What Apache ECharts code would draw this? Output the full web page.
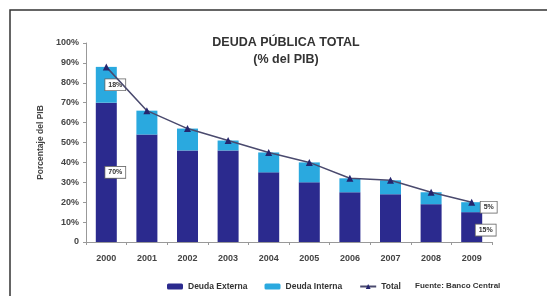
<!DOCTYPE html>
<html>
<head>
<meta charset="utf-8">
<script src="https://cdn.jsdelivr.net/npm/echarts@6/dist/echarts.min.js"></script>
<style>
  html, body { margin: 0; padding: 0; background: #fff; }
  #chart { width: 547px; height: 296px; }
</style>
</head>
<body>
<div id="chart"></div>
<script>
// años y valores (% del PIB)
const years = ['2000', '2001', '2002', '2003', '2004', '2005', '2006', '2007', '2008', '2009'];
const deudaExterna = [70, 54, 46, 46, 35, 30, 25, 24, 19, 15];
const deudaInterna = [18, 12, 11, 5, 10, 10, 7, 7, 6, 5];
const total = [88, 66, 57, 51, 45, 40, 32, 31, 25, 20];
const yTicks = [0, 10, 20, 30, 40, 50, 60, 70, 80, 90, 100];

const FONT = 'Liberation Sans';
const DARK = '#2b2a8e';
const LIGHT = '#2aa9df';

// etiquetas solo en la primera y la última barra
const _labeled = (arr, offset) => arr.map((v, i) => {
    if (i === 0 || i === arr.length - 1) {
        return {
            value: v,
            label: {
                show: true,
                position: 'inside',
                offset: i === 0 ? [9, 0] : offset,
                formatter: '{c}%',
                color: '#333',
                fontSize: 7,
                fontWeight: 'bold',
                fontFamily: FONT,
                backgroundColor: '#fff',
                borderColor: '#666',
                borderWidth: 0.8,
                padding: [2, 3]
            }
        };
    }
    return v;
});

let chart = echarts.init(document.getElementById('chart'));

chart.setOption({
    animation: false,
    title: {
        text: 'DEUDA PÚBLICA TOTAL\n(% del PIB)',
        left: 281,
        top: 29,
        textAlign: 'center',
        textStyle: {
            color: '#333',
            fontSize: 12.5,
            fontWeight: 'bold',
            fontFamily: FONT,
            lineHeight: 17
        }
    },
    legend: {
        left: 162,
        top: 277,
        itemWidth: 16,
        itemHeight: 6,
        itemGap: 17,
        textStyle: { fontSize: 8.5, fontWeight: 'bold', color: '#333', fontFamily: FONT },
        data: ['Deuda Externa', 'Deuda Interna', 'Total']
    },
    grid: {
        left: 86,
        right: 55,
        top: 43,
        bottom: 54
    },
    xAxis: {
        type: 'category',
        data: years,
        axisLine: { lineStyle: { color: '#999', width: 1 } },
        axisTick: { show: true, lineStyle: { color: '#999' }, length: 3 },
        axisLabel: {
            color: '#444',
            fontSize: 9,
            fontWeight: 'bold',
            fontFamily: FONT,
            margin: 12
        }
    },
    yAxis: {
        type: 'value',
        min: yTicks[0],
        max: yTicks[yTicks.length - 1],
        interval: 10,
        name: 'Porcentaje del PIB',
        nameLocation: 'middle',
        nameGap: 41,
        nameTextStyle: { fontSize: 8.5, fontWeight: 'bold', color: '#444', fontFamily: FONT },
        axisLine: { show: true, lineStyle: { color: '#999' } },
        axisTick: { show: true, lineStyle: { color: '#999' }, length: 3 },
        splitLine: { show: false },
        axisLabel: {
            color: '#444',
            fontSize: 9,
            fontWeight: 'bold',
            fontFamily: FONT,
            margin: 7,
            formatter: (v) => v === 0 ? '0' : v + '%'
        }
    },
    graphic: [
        {
            type: 'polyline',
            shape: { points: [[10, 296], [10, 10], [547, 10]] },
            style: { stroke: '#333', lineWidth: 1.5, fill: null }
        },
        {
            type: 'text',
            left: 415,
            top: 282,
            style: {
                text: 'Fuente: Banco Central',
                fontSize: 8,
                fontWeight: 'bold',
                fill: '#333',
                fontFamily: FONT
            }
        }
    ],
    series: [
        {
            name: 'Deuda Externa',
            type: 'bar',
            stack: 'deuda',
            barWidth: 21,
            itemStyle: { color: DARK },
            data: _labeled(deudaExterna, [14, 3])
        },
        {
            name: 'Deuda Interna',
            type: 'bar',
            stack: 'deuda',
            barWidth: 21,
            itemStyle: { color: LIGHT },
            data: _labeled(deudaInterna, [17, 0])
        },
        {
            name: 'Total',
            type: 'line',
            symbol: 'triangle',
            symbolSize: 7,
            lineStyle: { color: '#4a4a6e', width: 1.5 },
            itemStyle: { color: '#25256e' },
            data: total,
            z: 5
        }
    ]
});
</script>
</body>
</html>
